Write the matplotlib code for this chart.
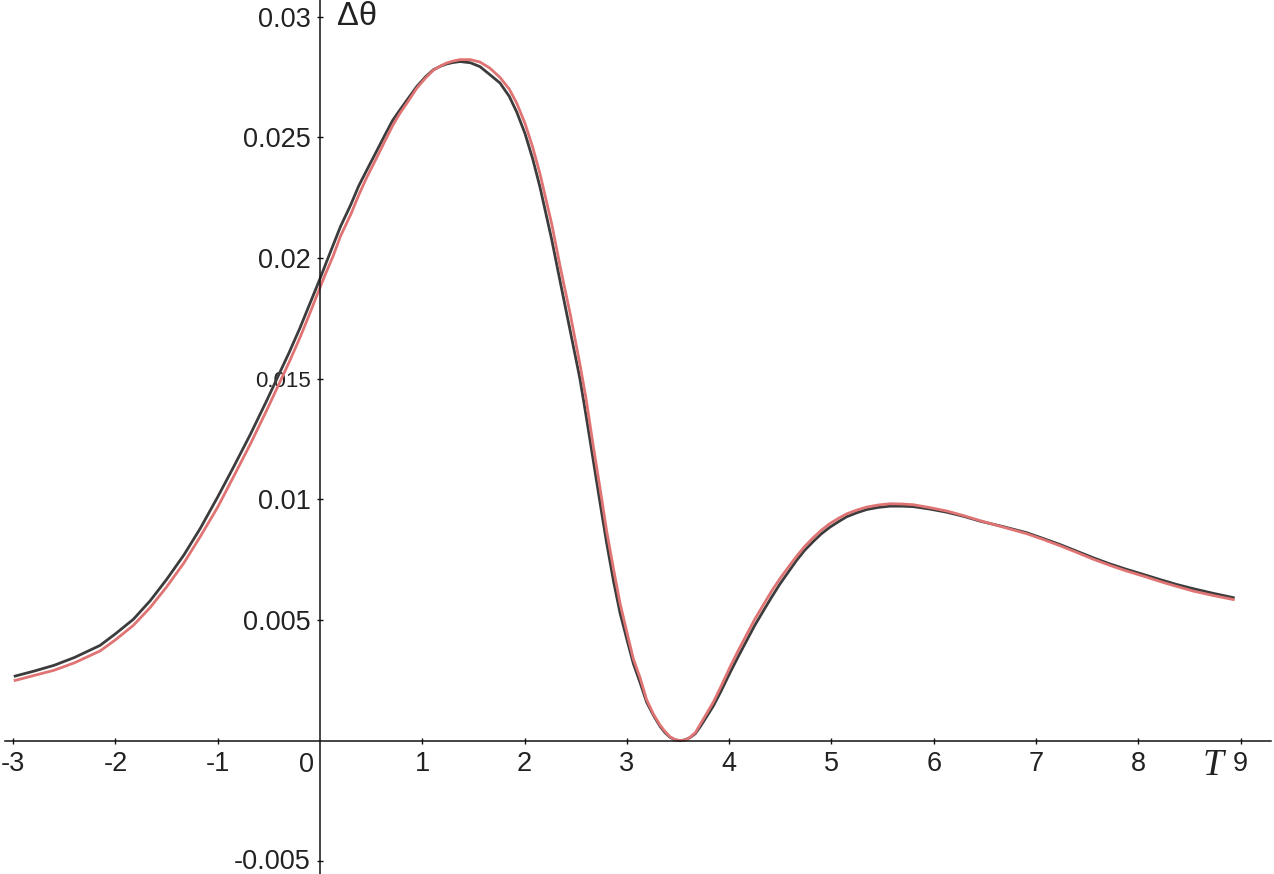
import matplotlib.pyplot as plt
from matplotlib.transforms import ScaledTranslation

plt.rcParams["axes.unicode_minus"] = False
plt.rcParams["font.family"] = ["Liberation Sans", "DejaVu Sans"]

# values
T = [-2.98, -2.8, -2.6, -2.4, -2.15, -2.0, -1.825, -1.66, -1.5, -1.33,
     -1.17, -1.0, -0.85, -0.68, -0.52, -0.41, -0.3, -0.196, -0.1, 0.0,
     0.06, 0.13, 0.2, 0.3, 0.38, 0.456, 0.55, 0.635, 0.71, 0.782,
     0.86, 0.945, 1.03, 1.108, 1.18, 1.238, 1.3, 1.369, 1.47, 1.564,
     1.66, 1.76, 1.85, 1.923, 2.004, 2.08, 2.15, 2.265, 2.35, 2.45,
     2.541, 2.6, 2.672, 2.74, 2.802, 2.87, 2.933, 3.0, 3.063, 3.13,
     3.193, 3.26, 3.324, 3.37, 3.42, 3.47, 3.52, 3.57, 3.617, 3.67,
     3.72, 3.78, 3.845, 3.92, 4.008, 4.09, 4.171, 4.25, 4.334, 4.415,
     4.497, 4.58, 4.66, 4.74, 4.823, 4.9, 4.985, 5.07, 5.148, 5.25,
     5.344, 5.46, 5.572, 5.69, 5.80, 5.96, 6.126, 6.29, 6.452, 6.68,
     6.908, 7.07, 7.234, 7.4, 7.56, 7.72, 7.886, 8.05, 8.211, 8.37,
     8.537, 8.73, 8.928]

d_black = [0.00268, 0.00288, 0.003125, 0.00345, 0.00395, 0.00443, 0.00503, 0.0058, 0.00668, 0.0077,
           0.0088, 0.0101, 0.0113, 0.0127, 0.0141, 0.0151, 0.0161, 0.0171, 0.0181, 0.01914,
           0.0198, 0.02055, 0.0213, 0.0222, 0.0230, 0.02363, 0.0244, 0.0251, 0.0257, 0.02614,
           0.0266, 0.0271, 0.0275, 0.0278, 0.02795, 0.02804, 0.0281, 0.02814, 0.02809, 0.02793,
           0.0276, 0.02725, 0.0267, 0.02605, 0.02516, 0.0241, 0.02295, 0.02077, 0.01898, 0.0169,
           0.0150, 0.0135, 0.0116, 0.0098, 0.0082, 0.0066, 0.0053, 0.0042, 0.0032, 0.0024,
           0.0016, 0.00105, 0.0006, 0.00035, 0.00015, 0.00004, 0.0, 0.00004, 0.00013, 0.0003,
           0.0006, 0.001, 0.00144, 0.00205, 0.00282, 0.0035, 0.00415, 0.00478, 0.00538, 0.00595,
           0.0065, 0.007, 0.00748, 0.0079, 0.00826, 0.00857, 0.00885, 0.00908, 0.00928, 0.00945,
           0.00958, 0.00967, 0.00972, 0.00972, 0.0097, 0.0096, 0.00947, 0.0093, 0.0091, 0.00887,
           0.00862, 0.00838, 0.00813, 0.00785, 0.00758, 0.00733, 0.0071, 0.00689, 0.00668, 0.00648,
           0.0063, 0.00611, 0.00593]

d_red = [0.0025, 0.0027, 0.00292, 0.00323, 0.00372, 0.00418, 0.00478, 0.00552, 0.00637, 0.00737,
         0.00846, 0.00968, 0.0109, 0.0123, 0.0137, 0.0147, 0.0157, 0.0167, 0.0177, 0.01878,
         0.0194, 0.0201, 0.0209, 0.0218, 0.02262, 0.02333, 0.02412, 0.02485, 0.02548, 0.026,
         0.02648, 0.02703, 0.02745, 0.02778, 0.02796, 0.02808, 0.02816, 0.02822, 0.02822, 0.02812,
         0.02787, 0.02748, 0.027, 0.02642, 0.02558, 0.02458, 0.0235, 0.02142, 0.0196, 0.0176,
         0.0156, 0.0142, 0.0122, 0.0104, 0.0087, 0.0071, 0.0057, 0.0045, 0.0034, 0.0026,
         0.0017, 0.0011, 0.00065, 0.0004, 0.00017, 0.00005, 0.00001, 0.00003, 0.00014, 0.00034,
         0.0007, 0.00113, 0.0016, 0.00225, 0.00305, 0.00375, 0.0044, 0.00503, 0.00563, 0.0062,
         0.00672, 0.0072, 0.00765, 0.00806, 0.00842, 0.00872, 0.009, 0.00922, 0.0094, 0.00956,
         0.00968, 0.00977, 0.00982, 0.00981, 0.00978, 0.00966, 0.00952, 0.00933, 0.00912, 0.00885,
         0.00858, 0.00834, 0.00808, 0.0078, 0.00752, 0.00727, 0.00703, 0.00682, 0.0066, 0.0064,
         0.0062, 0.00602, 0.00585]

x_ticks = [-3, -2, -1, 1, 2, 3, 4, 5, 6, 7, 8, 9]
x_labels = ["-3", "-2", "-1", "1", "2", "3", "4", "5", "6", "7", "8", "9"]
y_ticks = [-0.005, 0.005, 0.01, 0.015, 0.02, 0.025, 0.03]
y_labels = ["-0.005", "0.005", "0.01", "0.015", "0.02", "0.025", "0.03"]

fig = plt.figure(figsize=(12.74, 8.74), dpi=100)
ax = fig.add_axes([0, 0, 1, 1])

ax.plot(T, d_black, color="#3c3c3c", lw=2.0)
ax.plot(T, d_red, color="#e07474", lw=2.0)

ax.set_xlim(-3.128, 9.326)
ax.set_ylim(-0.00552, 0.03069)

for s in ["top", "right"]:
    ax.spines[s].set_visible(False)
ax.spines["left"].set_position(("data", 0))
ax.spines["bottom"].set_position(("data", 0))
ax.spines["bottom"].set_bounds(-3.08, 9.3)
for s in ["left", "bottom"]:
    ax.spines[s].set_linewidth(1.1)
    ax.spines[s].set_color("#111111")

ax.set_xticks(x_ticks, x_labels)
ax.set_yticks(y_ticks, y_labels)
ax.tick_params(direction="inout", length=4.5, width=1.0, colors="#111111",
               labelsize=19.5, labelcolor="#222222")
ax.tick_params(axis="x", pad=5.0)
ax.tick_params(axis="y", pad=4.5)
for lbl in ax.get_yticklabels():
    if lbl.get_text() == "0.015":
        lbl.set_fontsize(16)
    if lbl.get_text() == "-0.005":
        # nudge up a little so it stays inside the figure
        lbl.set_transform(lbl.get_transform()
                          + ScaledTranslation(0, 2 / 100, fig.dpi_scale_trans))

ax.text(-0.13, -0.00045, "0", ha="center", va="top", fontsize=19.5, color="#222222")
ax.text(0.165, 0.03, "Δθ", ha="left", va="center", fontsize=23.5, color="#222222")
ax.text(8.73, -0.00105, "T", ha="center", va="center", fontsize=27,
        family="Liberation Serif", style="italic", color="#222222")

fig.savefig("out.png", dpi=100)
